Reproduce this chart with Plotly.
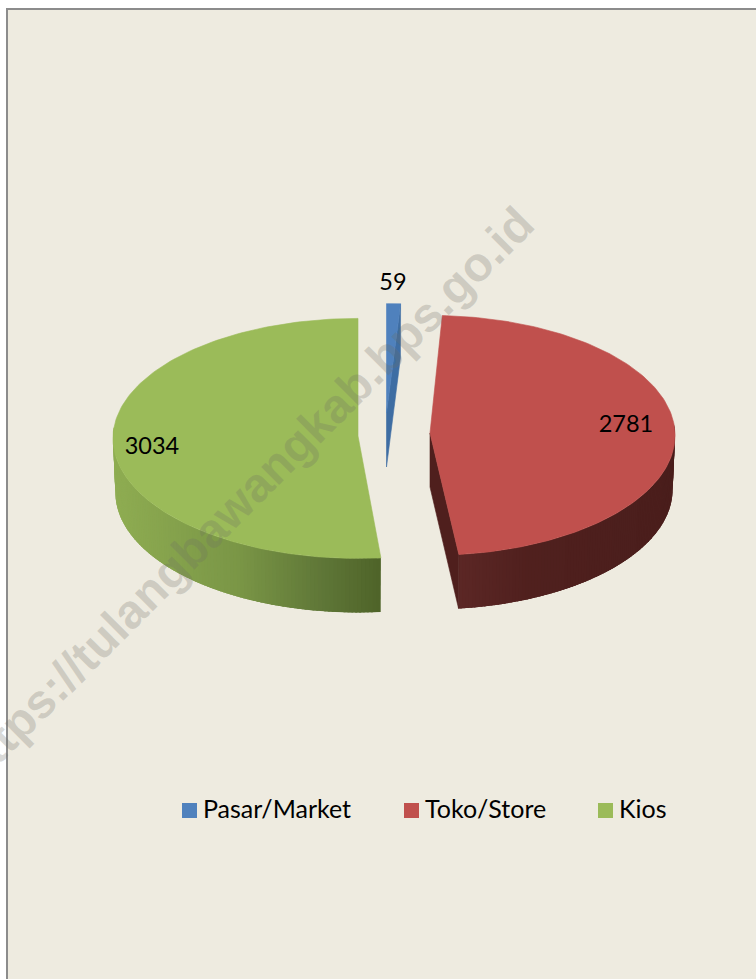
import math
import plotly.graph_objects as go

# Data
categories = ["Pasar/Market", "Toko/Store", "Kios"]
values = [59, 2781, 3034]
top_colors = ["#4f81bd", "#c0504d", "#9bbb59"]
cut_colors = ["#3e6da3", "#4f1f1d", None]

# Projection of the tilted, exploded pie (pixel-based layout)
WIDTH, HEIGHT = 756, 979
RX, RY, DEPTH, PERSP, BOTTOM_SCALE = 245, 120, 54, 0.02, 0.99
apex = [(386.5, 413), (430, 433), (358, 436)]
radial_scale = [0.93, 1.0, 1.0]
# small per-edge corrections (radians) for the view angle: (start edge, end edge)
edge_shift = [(0.0, 0.0), (-0.012, -0.012), (0.012, 0.0)]
wall_stops = [
    None,
    [(458, (92, 39, 37)), (530, (80, 32, 30)), (675, (74, 30, 28))],
    [(111, (143, 173, 82)), (240, (122, 150, 70)), (320, (96, 120, 56)), (381, (79, 100, 41))],
]
label_pos = [(393, 284), (626, 426.5), (152, 448)]
legend_marker_x = [189.5, 411.5, 605.5]
legend_y = 810.5
legend_text_y = 812


def project(i, theta, drop=0.0):
    s = radial_scale[i]
    f = s * (1 - PERSP * math.cos(theta))
    k = BOTTOM_SCALE if drop else 1.0
    return (apex[i][0] + RX * math.sin(theta) * f * k,
            apex[i][1] - RY * math.cos(theta) * f + drop)


def lerp_color(stops, x):
    if x <= stops[0][0]:
        c = stops[0][1]
    elif x >= stops[-1][0]:
        c = stops[-1][1]
    else:
        for (a, ca), (b, cb) in zip(stops, stops[1:]):
            if a <= x <= b:
                t = (x - a) / (b - a)
                c = tuple(ca[j] + (cb[j] - ca[j]) * t for j in range(3))
                break
    return "rgb(%d,%d,%d)" % tuple(round(v) for v in c)


def poly(xs, ys, color, name, lw=0.6):
    return go.Scatter(x=xs + xs[:1], y=ys + ys[:1], mode="lines", fill="toself",
                      fillcolor=color, line=dict(color=color, width=lw),
                      hoverinfo="skip", showlegend=False, name=name)


total = sum(values)
bounds = [0.0]
for v in values:
    bounds.append(bounds[-1] + v / total * 2 * math.pi)
spans = [(bounds[i] + edge_shift[i][0], bounds[i + 1] + edge_shift[i][1]) for i in range(len(values))]

fig = go.Figure()

for i, name in enumerate(categories):
    a0, a1 = spans[i]
    # outer wall, visible where the rim faces the viewer
    lo, hi = max(a0, math.pi / 2 - 0.08), min(a1, 3 * math.pi / 2 + 0.08)
    if wall_stops[i] and hi > lo:
        n = 110
        for k in range(n):
            t0 = lo + (hi - lo) * k / n
            t1 = min(lo + (hi - lo) * (k + 2.5) / n, hi)
            p = [project(i, t0), project(i, t1), project(i, t1, DEPTH), project(i, t0, DEPTH)]
            fig.add_trace(poly([q[0] for q in p], [q[1] for q in p],
                               lerp_color(wall_stops[i], p[0][0]), name, lw=0))
    # cut wall, visible on the slices whose cut faces the viewer
    if cut_colors[i]:
        ax, ay = apex[i]
        ex, ey = project(i, a1)
        bx, by = project(i, a1, DEPTH)
        fig.add_trace(poly([ax, ex, bx, ax], [ay, ey, by, ay + DEPTH], cut_colors[i], name))

for i, name in enumerate(categories):
    a0, a1 = spans[i]
    n = 160
    pts = [project(i, a0 + (a1 - a0) * k / n) for k in range(n + 1)]
    xs = [apex[i][0]] + [p[0] for p in pts]
    ys = [apex[i][1]] + [p[1] for p in pts]
    fig.add_trace(poly(xs, ys, top_colors[i], name))

# data labels
fig.add_trace(go.Scatter(
    x=[p[0] for p in label_pos], y=[p[1] for p in label_pos],
    text=[str(v) for v in values], mode="text", textposition="middle center",
    textfont=dict(family="Lato", size=23.5, color="#000000"),
    hoverinfo="skip", showlegend=False))

# legend keys and names
for i, name in enumerate(categories):
    fig.add_trace(go.Scatter(
        x=[legend_marker_x[i]], y=[legend_y], mode="markers",
        marker=dict(symbol="square", size=15, color=top_colors[i], line=dict(width=0)),
        hoverinfo="skip", showlegend=False, name=name))
    fig.add_trace(go.Scatter(
        x=[legend_marker_x[i]], y=[legend_text_y], mode="markers+text", text=["\u2009" + name],
        textposition="middle right",
        marker=dict(symbol="square", size=15, color="rgba(0,0,0,0)", line=dict(width=0)),
        textfont=dict(family="Lato", size=25, color="#000000"),
        hoverinfo="skip", showlegend=False, name=name))

fig.update_layout(
    width=WIDTH, height=HEIGHT, margin=dict(l=0, r=0, t=0, b=0),
    paper_bgcolor="#ffffff", plot_bgcolor="#ffffff", showlegend=False,
    xaxis=dict(range=[0, WIDTH], visible=False, fixedrange=True),
    yaxis=dict(range=[HEIGHT, 0], visible=False, fixedrange=True),
    shapes=[dict(type="rect", xref="x", yref="y", x0=7, y0=9, x1=WIDTH + 20, y1=HEIGHT + 20,
                 fillcolor="#eeebe0", line=dict(color="#8c8c8c", width=2), layer="below")],
    annotations=[dict(text="<b>https://tulangbawangkab.bps.go.id</b>", xref="x", yref="y",
                      x=245, y=495, showarrow=False, textangle=-45,
                      font=dict(family="Liberation Sans", size=48, color="rgba(110,110,100,0.25)"))],
)

fig.write_html("out.html", config=dict(displayModeBar=False),
               post_script="document.body.style.margin='0';document.documentElement.style.overflow='hidden';")
